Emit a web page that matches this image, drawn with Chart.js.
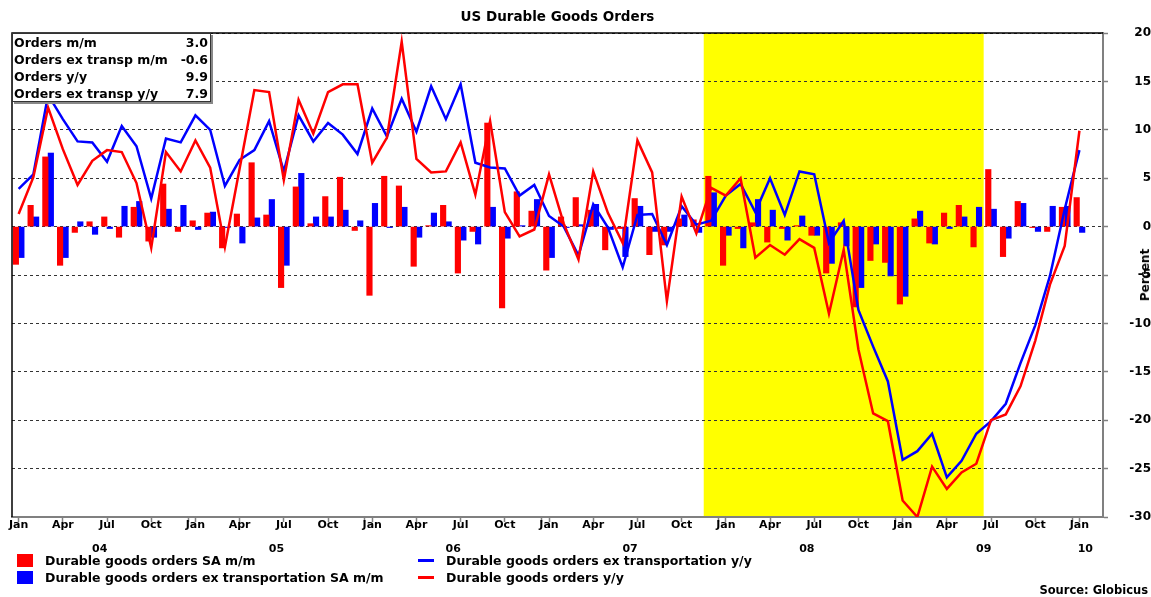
<!DOCTYPE html>
<html>
<head>
<meta charset="utf-8">
<script src="https://cdn.jsdelivr.net/npm/chart.js@4.4.1/dist/chart.umd.min.js"></script>
<style>
  html, body { margin:0; padding:0; background:#fff; }
  #wrap { position:relative; width:1151px; height:597px; font-family:"DejaVu Sans", Verdana, sans-serif; font-weight:bold; color:#000; }
  canvas { position:absolute; left:0; top:0; }
  .abs { position:absolute; white-space:nowrap; }
  #title { left:0; width:1115px; top:8px; text-align:center; font-size:13.5px; }
  #info { left:12px; top:33px; width:196px; height:67px; background:#fff; border:1px solid #333; box-shadow:2px 2px 0 #888; font-size:12.5px; line-height:17px; padding:0 0 0 1px; box-sizing:content-box; }
  #info .row { display:flex; justify-content:space-between; padding-right:2px; }
  #percent { left:1139px; top:275px; font-size:12px; line-height:13px; transform-origin:0 0; transform:rotate(-90deg) translate(-50%,0); }
  .leg { font-size:12.5px; height:17px; line-height:17px; }
  .sw { display:inline-block; position:absolute; }
  #source { right:3px; top:583px; font-size:11.5px; }
</style>
</head>
<body>
<div id="wrap">
  <canvas id="c" width="1151" height="597"></canvas>
  <div id="title" class="abs">US Durable Goods Orders</div>
  <div id="info" class="abs"></div>
  <div id="percent" class="abs">Percent</div>
  <div id="legend"></div>
  <div id="source" class="abs">Source: Globicus</div>
</div>
<script>
// ---- categories (monthly, Jan 2004 .. Jan 2010) ----
const months = [
  'Jan 04','Feb 04','Mar 04','Apr 04','May 04','Jun 04','Jul 04','Aug 04','Sep 04','Oct 04','Nov 04','Dec 04',
  'Jan 05','Feb 05','Mar 05','Apr 05','May 05','Jun 05','Jul 05','Aug 05','Sep 05','Oct 05','Nov 05','Dec 05',
  'Jan 06','Feb 06','Mar 06','Apr 06','May 06','Jun 06','Jul 06','Aug 06','Sep 06','Oct 06','Nov 06','Dec 06',
  'Jan 07','Feb 07','Mar 07','Apr 07','May 07','Jun 07','Jul 07','Aug 07','Sep 07','Oct 07','Nov 07','Dec 07',
  'Jan 08','Feb 08','Mar 08','Apr 08','May 08','Jun 08','Jul 08','Aug 08','Sep 08','Oct 08','Nov 08','Dec 08',
  'Jan 09','Feb 09','Mar 09','Apr 09','May 09','Jun 09','Jul 09','Aug 09','Sep 09','Oct 09','Nov 09','Dec 09',
  'Jan 10'
];

// ---- series values (percent) ----
const durableMoM = [
  -3.9, 2.2, 7.2, -4.0, -0.6, 0.5, 1.0, -1.1, 2.0, -1.5, 4.4, -0.5,
   0.6, 1.4, -2.2, 1.3, 6.6, 1.2, -6.3, 4.1, 0.3, 3.1, 5.1, -0.4,
  -7.1, 5.2, 4.2, -4.1, 0.1, 2.2, -4.8, -0.5, 10.7, -8.4, 3.6, 1.6,
  -4.5, 1.0, 3.0, 1.7, -2.4, -0.2, 2.9, -2.9, -1.9, 0.8, 0.7, 5.2,
  -4.0, -0.2, 0.4, -1.6, -0.2, 0.1, -0.9, -4.8, 0.4, -8.3, -3.5, -3.7,
  -8.0, 0.8, -1.7, 1.4, 2.2, -2.1, 5.9, -3.1, 2.6, -0.1, -0.5, 2.0,
   3.0
];
const exTranspMoM = [
  -3.2, 1.0, 7.6, -3.2, 0.5, -0.8, -0.2, 2.1, 2.6, -1.1, 1.8, 2.2,
  -0.3, 1.5, -0.1, -1.7, 0.9, 2.8, -4.0, 5.5, 1.0, 1.0, 1.7, 0.6,
   2.4, -0.1, 2.0, -1.1, 1.4, 0.5, -1.4, -1.8, 2.0, -1.2, 0.1, 2.8,
  -3.2, -0.1, 0.2, 2.3, -0.3, -3.1, 2.1, -0.5, -0.5, 1.2, -0.6, 3.5,
  -0.9, -2.2, 2.8, 1.7, -1.4, 1.1, -0.9, -3.8, -2.0, -6.3, -1.8, -5.1,
  -7.2, 1.6, -1.8, -0.2, 1.0, 2.0, 1.8, -1.2, 2.4, -0.5, 2.1, 2.1,
  -0.6
];
const exTranspYoY = [
   3.9, 5.4, 13.6, 11.1, 8.8, 8.7, 6.7, 10.4, 8.3, 2.9, 9.1, 8.7,
  11.5, 10.0, 4.2, 6.9, 7.9, 10.9, 5.7, 11.5, 8.8, 10.7, 9.5, 7.5,
  12.2, 9.3, 13.2, 9.8, 14.5, 11.1, 14.7, 6.6, 6.1, 6.0, 3.2, 4.3,
   1.1, 0.0, -3.0, 2.3, -0.1, -4.2, 1.2, 1.3, -1.9, 2.1, 0.2, 0.6,
   3.2, 4.4, 1.5, 5.0, 1.2, 5.7, 5.4, -1.7, 0.6, -8.6, -12.4, -16.0,
  -24.1, -23.2, -21.4, -25.9, -24.2, -21.4, -20.1, -18.3, -14.1, -10.2, -5.1, 1.8,
   7.9
];
const durableYoY = [
   1.3, 5.1, 12.3, 8.0, 4.3, 6.8, 7.9, 7.7, 4.5, -2.2, 7.7, 5.7,
   8.9, 6.1, -2.1, 6.0, 14.1, 13.9, 4.8, 13.1, 9.6, 13.9, 14.7, 14.7,
   6.6, 9.2, 19.1, 7.0, 5.6, 5.7, 8.7, 3.3, 10.9, 1.5, -1.0, -0.3,
   5.4, 0.3, -3.4, 5.7, 1.4, -1.7, 8.9, 5.6, -7.7, 3.1, -0.7, 4.0,
   3.2, 5.0, -3.2, -1.9, -2.9, -1.3, -2.2, -9.0, -2.4, -12.7, -19.3, -20.1,
  -28.3, -30.0, -24.8, -27.1, -25.4, -24.5, -20.0, -19.4, -16.5, -11.8, -6.0, -2.0,
   9.9
];

// ---- labels ----
const seriesNames = [
  'Durable goods orders SA m/m',
  'Durable goods orders ex transportation SA m/m',
  'Durable goods orders ex transportation y/y',
  'Durable goods orders y/y'
];
const infoLabels = ['Orders m/m', 'Orders ex transp m/m', 'Orders y/y', 'Orders ex transp y/y'];
const monthTickLabels = ['Jan', 'Apr', 'Jul', 'Oct'];
const yearLabels = ['04', '05', '06', '07', '08', '09', '10'];
const yTickValues = [20, 15, 10, 5, 0, -5, -10, -15, -20, -25, -30];
const recession = ['Dec 07', 'Jun 09'];

// ---- derived helpers ----
const idx = m => months.indexOf(m);
const pts = arr => arr.map((v, i) => ({ x: i, y: v }));
const xMin = -0.45, xMax = 73.6;

const xTickMap = new Map();
months.forEach((m, i) => {
  const mon = m.slice(0, 3);
  const k = monthTickLabels.indexOf(mon);
  if (k >= 0) xTickMap.set(i, monthTickLabels[k]);
  if (mon === 'Jan' && i > 0) xTickMap.set(i - 0.5, '');
});
const xTickValues = [...xTickMap.keys()].sort((a, b) => a - b);
const yearPos = yearLabels.map(y => {
  const first = idx('Jan ' + y);
  const lastIdx = months.length - 1;
  return first === lastIdx ? first + 0.4 : first + 5.5;
});

const RED = '#ff0000', BLUE = '#0000ff';

const recessionPlugin = {
  id: 'recession',
  beforeDraw(chart) {
    const { ctx, chartArea: a, scales: { x } } = chart;
    const x0 = x.getPixelForValue(idx(recession[0]) - 0.5);
    const x1 = x.getPixelForValue(idx(recession[1]) + 0.5);
    ctx.save();
    ctx.fillStyle = '#ffff00';
    ctx.fillRect(x0, a.top, x1 - x0, a.bottom - a.top);
    ctx.restore();
  }
};
const framePlugin = {
  id: 'frame',
  afterDatasetsDraw(chart) {
    const { ctx, chartArea: a } = chart;
    ctx.save();
    ctx.strokeStyle = '#000';
    ctx.lineWidth = 1.5;
    ctx.beginPath();
    ctx.moveTo(a.left, a.bottom);
    ctx.lineTo(a.left, a.top);
    ctx.lineTo(a.right, a.top);
    ctx.stroke();
    ctx.restore();
  }
};

const tickFont = { family: '"DejaVu Sans", Verdana, sans-serif', weight: 'bold', size: 11 };

new Chart(document.getElementById('c'), {
  type: 'bar',
  data: {
    datasets: [
      { type: 'line', label: seriesNames[3], data: pts(durableYoY), borderColor: RED, borderWidth: 2.5, pointRadius: 0, tension: 0, fill: false },
      { type: 'line', label: seriesNames[2], data: pts(exTranspYoY), borderColor: BLUE, borderWidth: 2.5, pointRadius: 0, tension: 0, fill: false },
      { type: 'bar', label: seriesNames[0], data: pts(durableMoM), backgroundColor: RED, borderWidth: 0, barThickness: 5.5 },
      { type: 'bar', label: seriesNames[1], data: pts(exTranspMoM), backgroundColor: BLUE, borderWidth: 0, barThickness: 5.5 }
    ]
  },
  options: {
    responsive: false,
    animation: false,
    devicePixelRatio: 1,
    layout: { padding: { left: 12, top: 33, right: 0, bottom: 0 } },
    plugins: { legend: { display: false }, tooltip: { enabled: false }, title: { display: false } },
    scales: {
      x: {
        type: 'linear', position: 'bottom', min: xMin, max: xMax, weight: 0, offset: false,
        afterBuildTicks: s => { s.ticks = xTickValues.map(v => ({ value: v })); },
        afterFit: s => { s.height = 22; },
        ticks: { autoSkip: false, maxRotation: 0, minRotation: 0, padding: -3, color: '#000', font: tickFont,
                 callback: v => xTickMap.get(v) ?? '' },
        grid: { offset: false, drawOnChartArea: false, drawTicks: true, tickLength: 5, tickColor: '#808080', tickWidth: 1.5 },
        border: { display: true, color: '#808080', width: 2 }
      },
      x2: {
        type: 'linear', position: 'bottom', min: xMin, max: xMax, weight: 1, offset: false,
        afterBuildTicks: s => { s.ticks = yearPos.map(v => ({ value: v })); },
        afterFit: s => { s.height = 58; },
        ticks: { autoSkip: false, maxRotation: 0, minRotation: 0, padding: 4, color: '#000', font: tickFont,
                 callback: (v, i) => yearLabels[i] },
        grid: { offset: false, display: false, drawTicks: false, drawOnChartArea: false },
        border: { display: false }
      },
      y: {
        type: 'linear', position: 'right', min: -30, max: 20,
        afterBuildTicks: s => { s.ticks = yTickValues.map(v => ({ value: v })); },
        afterFit: s => { s.width = 48; },
        ticks: { crossAlign: 'far', padding: 5, color: '#000', font: { family: '"DejaVu Sans", Verdana, sans-serif', weight: 'bold', size: 12 } },
        grid: { color: '#333', lineWidth: 1, drawTicks: true, tickLength: 5, tickColor: '#808080', tickWidth: 1.5 },
        border: { display: true, color: '#808080', width: 2, dash: [3, 3] }
      }
    }
  },
  plugins: [recessionPlugin, framePlugin]
});

// ---- info box (latest values) ----
const latest = [durableMoM, exTranspMoM, durableYoY, exTranspYoY].map(a => a[a.length - 1]);
document.getElementById('info').innerHTML = infoLabels.map((l, i) =>
  `<div class="row"><span>${l}</span><span>${latest[i].toFixed(1)}</span></div>`).join('');

// ---- legend ----
const legendItems = [
  { name: seriesNames[0], color: RED, kind: 'box', left: 17, top: 552 },
  { name: seriesNames[1], color: BLUE, kind: 'box', left: 17, top: 569 },
  { name: seriesNames[2], color: BLUE, kind: 'line', left: 418, top: 552 },
  { name: seriesNames[3], color: RED, kind: 'line', left: 418, top: 569 }
];
document.getElementById('legend').innerHTML = legendItems.map(it => {
  const sw = it.kind === 'box'
    ? `<span class="sw" style="left:0;top:2px;width:16px;height:13px;background:${it.color}"></span>`
    : `<span class="sw" style="left:0;top:7px;width:16px;height:3px;background:${it.color}"></span>`;
  return `<div class="abs leg" style="left:${it.left}px;top:${it.top}px;">${sw}<span style="margin-left:28px">${it.name}</span></div>`;
}).join('');
</script>
</body>
</html>
